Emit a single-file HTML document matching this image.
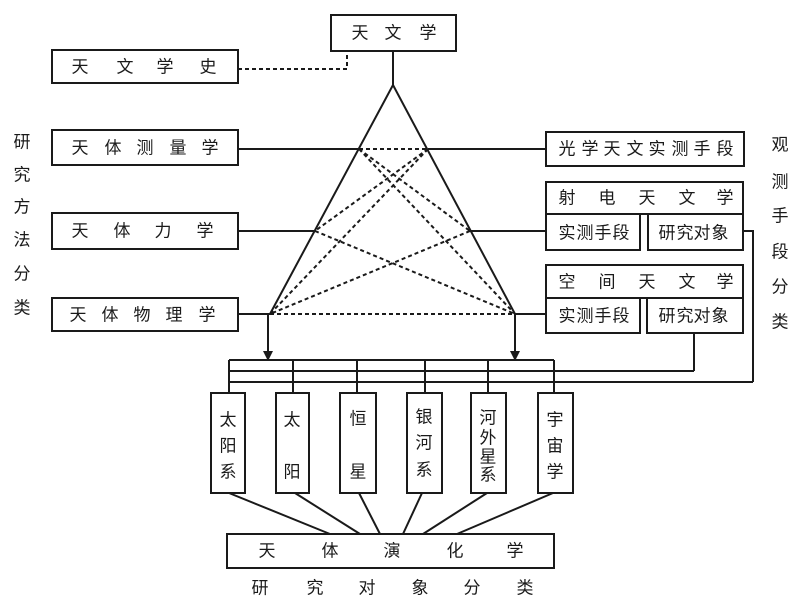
<!DOCTYPE html>
<html><head><meta charset="utf-8"><style>
html,body{margin:0;padding:0;background:#fff;}
svg{display:block;}
text{font-family:"Liberation Sans","Noto Sans CJK SC",sans-serif;font-size:17px;fill:#1a1a1a;text-anchor:middle;dominant-baseline:central;}
</style></head><body>
<svg width="800" height="607" viewBox="0 0 800 607" xmlns="http://www.w3.org/2000/svg">
<g fill="none" stroke="#1a1a1a" stroke-width="2">
<!-- boxes -->
<rect x="331" y="15" width="125" height="36"/>
<rect x="52" y="50" width="186" height="33"/>
<rect x="52" y="130" width="186" height="35"/>
<rect x="52" y="213" width="186" height="36"/>
<rect x="52" y="298" width="186" height="33"/>
<rect x="546" y="132" width="198" height="34"/>
<rect x="546" y="182" width="197" height="32"/>
<rect x="546" y="214" width="94" height="36"/>
<rect x="648" y="214" width="95" height="36"/>
<rect x="546" y="265" width="197" height="33"/>
<rect x="546" y="298" width="94" height="35"/>
<rect x="647" y="298" width="96" height="35"/>
<rect x="211" y="393" width="34" height="100"/>
<rect x="276" y="393" width="33" height="100"/>
<rect x="340" y="393" width="36" height="100"/>
<rect x="407" y="393" width="35" height="100"/>
<rect x="471" y="393" width="35" height="100"/>
<rect x="538" y="393" width="35" height="100"/>
<rect x="227" y="534" width="327" height="34"/>
<!-- triangle -->
<polyline points="393,51 393,85 270,314"/>
<line x1="393" y1="85" x2="515" y2="314"/>
<!-- horizontal connectors -->
<line x1="238" y1="149" x2="359" y2="149"/>
<line x1="428" y1="149" x2="546" y2="149"/>
<line x1="238" y1="231" x2="315" y2="231"/>
<line x1="470" y1="231" x2="546" y2="231"/>
<line x1="238" y1="314" x2="270" y2="314"/>
<line x1="515" y1="314" x2="546" y2="314"/>
<!-- arrows down -->
<line x1="268" y1="314" x2="268" y2="352"/>
<line x1="515" y1="314" x2="515" y2="352"/>
<!-- bus -->
<line x1="229" y1="360" x2="554" y2="360"/>
<line x1="229" y1="371" x2="694" y2="371"/>
<line x1="229" y1="382" x2="753" y2="382"/>
<line x1="229" y1="360" x2="229" y2="393"/>
<line x1="293" y1="360" x2="293" y2="393"/>
<line x1="357" y1="360" x2="357" y2="393"/>
<line x1="425" y1="360" x2="425" y2="393"/>
<line x1="488" y1="360" x2="488" y2="393"/>
<line x1="554" y1="360" x2="554" y2="393"/>
<polyline points="743,231 753,231 753,382"/>
<line x1="694" y1="333" x2="694" y2="371"/>
<!-- bottom fan -->
<line x1="229" y1="493" x2="330" y2="534"/>
<line x1="295" y1="493" x2="360" y2="534"/>
<line x1="359" y1="493" x2="380" y2="534"/>
<line x1="422" y1="493" x2="403" y2="534"/>
<line x1="487" y1="493" x2="423" y2="534"/>
<line x1="553" y1="493" x2="457" y2="534"/>
</g>
<g fill="#1a1a1a">
<polygon points="263,351 273,351 268,361"/>
<polygon points="510,351 520,351 515,361"/>
</g>
<!-- dashed -->
<g fill="none" stroke="#1a1a1a" stroke-width="2" stroke-dasharray="4 3">
<polyline points="238,69 347,69 347,51"/>
<line x1="359" y1="149" x2="428" y2="149"/>
<line x1="270" y1="314" x2="515" y2="314"/>
<line x1="359" y1="149" x2="470" y2="231"/>
<line x1="359" y1="149" x2="515" y2="314"/>
<line x1="428" y1="149" x2="315" y2="231"/>
<line x1="428" y1="149" x2="270" y2="314"/>
<line x1="315" y1="231" x2="515" y2="314"/>
<line x1="470" y1="231" x2="270" y2="314"/>
</g>
<!-- texts -->
<g>
<text x="360" y="33">天</text><text x="393" y="33">文</text><text x="428" y="33">学</text>
<text x="80" y="67">天</text><text x="125" y="67">文</text><text x="165" y="67">学</text><text x="208" y="67">史</text>
<text x="80" y="148">天</text><text x="113" y="148">体</text><text x="145" y="148">测</text><text x="178" y="148">量</text><text x="210" y="148">学</text>
<text x="80" y="231">天</text><text x="122" y="231">体</text><text x="163" y="231">力</text><text x="205" y="231">学</text>
<text x="78" y="315">天</text><text x="110" y="315">体</text><text x="142" y="315">物</text><text x="174" y="315">理</text><text x="207" y="315">学</text>
<text x="567" y="149">光</text><text x="590" y="149">学</text><text x="612" y="149">天</text><text x="635" y="149">文</text><text x="657" y="149">实</text><text x="680" y="149">测</text><text x="702" y="149">手</text><text x="725" y="149">段</text>
<text x="567" y="198">射</text><text x="607" y="198">电</text><text x="647" y="198">天</text><text x="687" y="198">文</text><text x="725" y="198">学</text>
<text x="567" y="233">实</text><text x="585" y="233">测</text><text x="603" y="233">手</text><text x="621" y="233">段</text>
<text x="667" y="233">研</text><text x="685" y="233">究</text><text x="702" y="233">对</text><text x="720" y="233">象</text>
<text x="567" y="282">空</text><text x="607" y="282">间</text><text x="647" y="282">天</text><text x="687" y="282">文</text><text x="725" y="282">学</text>
<text x="567" y="316">实</text><text x="585" y="316">测</text><text x="603" y="316">手</text><text x="621" y="316">段</text>
<text x="667" y="316">研</text><text x="685" y="316">究</text><text x="702" y="316">对</text><text x="720" y="316">象</text>
<!-- left labels -->
<text x="22" y="142">研</text><text x="22" y="175">究</text><text x="22" y="207">方</text><text x="22" y="240">法</text><text x="22" y="274">分</text><text x="22" y="308">类</text>
<!-- right labels -->
<text x="780" y="145">观</text><text x="780" y="182">测</text><text x="780" y="216">手</text><text x="780" y="252">段</text><text x="780" y="287">分</text><text x="780" y="322">类</text>
<!-- vertical boxes -->
<text x="228" y="420">太</text><text x="228" y="446">阳</text><text x="228" y="472">系</text>
<text x="292" y="420">太</text><text x="292" y="472">阳</text>
<text x="358" y="419">恒</text><text x="358" y="472">星</text>
<text x="424" y="417">银</text><text x="424" y="443">河</text><text x="424" y="470">系</text>
<text x="488" y="418">河</text><text x="488" y="438">外</text><text x="488" y="457">星</text><text x="488" y="475">系</text>
<text x="555" y="420">宇</text><text x="555" y="446">宙</text><text x="555" y="472">学</text>
<!-- bottom -->
<text x="267" y="551">天</text><text x="330" y="551">体</text><text x="392" y="551">演</text><text x="455" y="551">化</text><text x="515" y="551">学</text>
<text x="260" y="588">研</text><text x="315" y="588">究</text><text x="367" y="588">对</text><text x="420" y="588">象</text><text x="472" y="588">分</text><text x="525" y="588">类</text>
</g>
</svg>
</body></html>
